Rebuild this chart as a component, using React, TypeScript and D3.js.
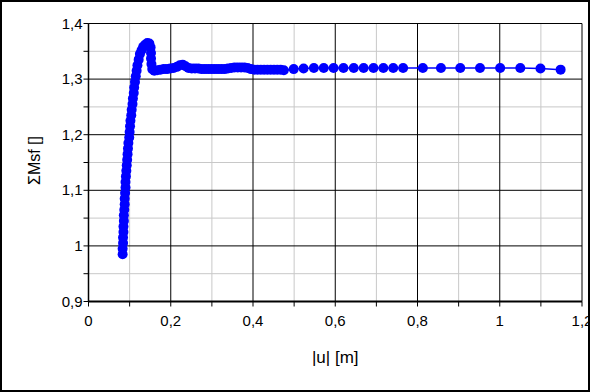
import React from "react";
import * as d3 from "d3";

const xValues = [
  0.083, 0.083, 0.084, 0.084, 0.085, 0.085, 0.086, 0.086, 0.087, 0.088,
  0.088, 0.089, 0.090, 0.090, 0.091, 0.092, 0.093, 0.094, 0.095, 0.096,
  0.097, 0.099, 0.100, 0.101, 0.102, 0.104, 0.105, 0.107, 0.108, 0.110,
  0.111, 0.113, 0.115, 0.117, 0.119, 0.122, 0.125, 0.129, 0.133, 0.138,
  0.143, 0.148, 0.151, 0.152, 0.152, 0.153, 0.155, 0.160, 0.167, 0.175,
  0.183, 0.191, 0.199, 0.207, 0.215, 0.222, 0.229, 0.236, 0.243, 0.251,
  0.259, 0.267, 0.275, 0.283, 0.291, 0.299, 0.307, 0.315, 0.323, 0.331,
  0.339, 0.347, 0.355, 0.363, 0.371, 0.379, 0.387, 0.395, 0.403, 0.411,
  0.419, 0.427, 0.435, 0.443, 0.451, 0.459, 0.467, 0.475, 0.499, 0.523,
  0.548, 0.572, 0.596, 0.620, 0.645, 0.669, 0.693, 0.717, 0.741, 0.765,
  0.813, 0.857, 0.904, 0.952, 1.001, 1.050, 1.099, 1.148,
];
const yValues = [
  0.985, 0.995, 1.005, 1.015, 1.025, 1.035, 1.045, 1.055, 1.065, 1.075,
  1.085, 1.095, 1.105, 1.115, 1.125, 1.135, 1.145, 1.155, 1.165, 1.175,
  1.185, 1.195, 1.205, 1.215, 1.225, 1.235, 1.245, 1.255, 1.265, 1.275,
  1.285, 1.295, 1.305, 1.315, 1.325, 1.335, 1.345, 1.352, 1.358, 1.362,
  1.365, 1.364, 1.357, 1.347, 1.337, 1.327, 1.318, 1.315, 1.316, 1.317,
  1.318, 1.318, 1.319, 1.320, 1.322, 1.325, 1.326, 1.323, 1.320, 1.319,
  1.319, 1.319, 1.318, 1.318, 1.318, 1.318, 1.318, 1.318, 1.318, 1.318,
  1.319, 1.320, 1.321, 1.321, 1.321, 1.321, 1.320, 1.318, 1.317, 1.317,
  1.317, 1.317, 1.317, 1.317, 1.317, 1.317, 1.317, 1.316, 1.318, 1.319,
  1.320, 1.320, 1.320, 1.320, 1.320, 1.320, 1.320, 1.320, 1.320, 1.320,
  1.320, 1.320, 1.320, 1.320, 1.320, 1.320, 1.319, 1.317,
];

const xMajorTicks = [0, 0.2, 0.4, 0.6, 0.8, 1, 1.2];
const xMinorTicks = [0.1, 0.3, 0.5, 0.7, 0.9, 1.1];
const yMajorTicks = [0.9, 1, 1.1, 1.2, 1.3, 1.4];
const yMinorTicks = [0.95, 1.05, 1.15, 1.25, 1.35];

const xTitle = "|u|  [m]";
const yTitle = "ΣMsf []";

const W = 590;
const H = 392;
const left = 88.5;
const right = 582;
const top = 23.5;
const bottom = 301.5;

const fmt = (v: number) => String(+v.toFixed(2)).replace(".", ",");

export default function App() {
  const x = d3.scaleLinear().domain([0, 1.2]).range([left, right]);
  const y = d3.scaleLinear().domain([0.9, 1.4]).range([bottom, top]);
  const pts = xValues.map((v, i) => [v, yValues[i]] as [number, number]);
  const line = d3
    .line<[number, number]>()
    .x((d) => x(d[0]))
    .y((d) => y(d[1]));
  const font = "'Liberation Sans', Arial, sans-serif";

  return (
    <svg
      width={W}
      height={H}
      style={{ position: "absolute", left: 0, top: 0, background: "#fff" }}
      fontFamily={font}
    >
      <rect x={1} y={1} width={W - 2} height={H - 2} fill="#fff" stroke="#000" strokeWidth={2} />
      {/* minor grid */}
      {xMinorTicks.map((t) => (
        <line key={"xm" + t} x1={x(t)} x2={x(t)} y1={top} y2={bottom} stroke="#c8c8c8" strokeWidth={1} />
      ))}
      {yMinorTicks.map((t) => (
        <line key={"ym" + t} x1={left} x2={right} y1={y(t)} y2={y(t)} stroke="#c8c8c8" strokeWidth={1} />
      ))}
      {/* major grid */}
      {xMajorTicks.map((t) => (
        <line key={"xM" + t} x1={x(t)} x2={x(t)} y1={top} y2={bottom} stroke="#000" strokeWidth={1} />
      ))}
      {yMajorTicks.map((t) => (
        <line key={"yM" + t} x1={left} x2={right} y1={y(t)} y2={y(t)} stroke="#000" strokeWidth={1} />
      ))}
      {/* axis lines */}
      <line x1={left} x2={right} y1={bottom} y2={bottom} stroke="#000" strokeWidth={2} />
      <line x1={left} x2={left} y1={top} y2={bottom} stroke="#000" strokeWidth={1.5} />
      {/* ticks */}
      {[...xMajorTicks, ...xMinorTicks].map((t) => (
        <line key={"xt" + t} x1={x(t)} x2={x(t)} y1={bottom} y2={bottom + 5} stroke="#000" strokeWidth={1} />
      ))}
      {[...yMajorTicks, ...yMinorTicks].map((t) => (
        <line key={"yt" + t} x1={left - 5} x2={left} y1={y(t)} y2={y(t)} stroke="#000" strokeWidth={1} />
      ))}
      {/* tick labels */}
      {xMajorTicks.map((t) => (
        <text key={"xl" + t} x={x(t)} y={bottom + 24} textAnchor="middle" fontSize={15} fill="#000">
          {fmt(t)}
        </text>
      ))}
      {yMajorTicks.map((t) => (
        <text key={"yl" + t} x={left - 6} y={y(t) + 5} textAnchor="end" fontSize={15} fill="#000">
          {fmt(t)}
        </text>
      ))}
      {/* titles */}
      <text x={(left + right) / 2} y={363} textAnchor="middle" fontSize={17} fill="#000">
        {xTitle}
      </text>
      <text
        transform={`translate(40, ${(top + bottom) / 2 - 2}) rotate(-90)`}
        textAnchor="middle"
        fontSize={16}
        fill="#000"
      >
        {yTitle}
      </text>
      {/* series */}
      <path d={line(pts) || ""} fill="none" stroke="#0000ff" strokeWidth={1.5} />
      {pts.map((p, i) => (
        <circle key={i} cx={x(p[0])} cy={y(p[1])} r={5} fill="#0000ff" />
      ))}
    </svg>
  );
}
